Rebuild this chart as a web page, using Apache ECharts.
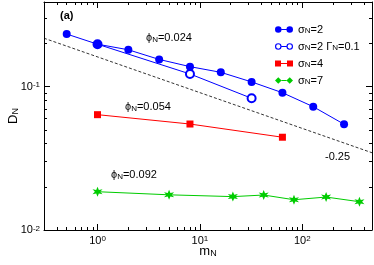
<!DOCTYPE html>
<html><head><meta charset="utf-8">
<script src="https://cdn.jsdelivr.net/npm/echarts@6/dist/echarts.min.js"></script>
<style>html,body{margin:0;padding:0;background:#fff}#c{width:374px;height:265px}</style>
</head><body><div id="c"></div>
<script>
// ---- data (raw values, log-log plot) ----
var xTickLabels = [0, 1, 2];          // exponents of 10 on x
var yTickLabels = [-2, -1];           // exponents of 10 on y
var xRange = [0.3, 480];
var yRange = [0.01, 0.39];

var sig2X = [0.5, 1, 2, 4, 8, 16, 32, 64, 128, 256];
var sig2Y = [0.233, 0.198, 0.181, 0.155, 0.138, 0.126, 0.108, 0.0908, 0.0725, 0.0547];

var sig2gX = [1, 8, 32];
var sig2gY = [0.198, 0.1227, 0.083];

var sig4X = [1, 8, 64];
var sig4Y = [0.0638, 0.0549, 0.0444];

var sig7X = [1, 5, 21, 42, 83, 171, 362];
var sig7Y = [0.0185, 0.0176, 0.0171, 0.01754, 0.01626, 0.01698, 0.01575];

var refX = [0.3, 480];
var refY = [0.218, 0.0346];

// ---- helpers ----
var L = Math.log10;
function pts(xs, ys) { return xs.map(function (x, i) { return [L(x), L(ys[i])]; }); }
function minorTicks(lo, hi) {
  var out = [];
  for (var e = Math.floor(L(lo)); e <= Math.ceil(L(hi)); e++) {
    for (var k = 2; k <= 9; k++) {
      var v = k * Math.pow(10, e);
      if (v >= lo && v <= hi) out.push(L(v));
    }
  }
  return out;
}
var FONT = 'Liberation Sans';
var supRich = {
  b: { fontSize: 11, lineHeight: 11, verticalAlign: 'bottom', fontFamily: FONT, color: '#000' },
  s: { fontSize: 8, lineHeight: 8, verticalAlign: 'top', padding: [0, 0, 6, 0], fontFamily: FONT, color: '#000' }
};
function subRich(color, big) {
  var fm = big ? 13 : 11, fs = big ? 9 : 8;
  return {
    m: { fontSize: fm, lineHeight: fm, verticalAlign: 'top', fontFamily: FONT, color: color },
    sub: { fontSize: fs, lineHeight: fs, verticalAlign: 'bottom', padding: [big ? 7 : 5, 0, 0, 0], fontFamily: FONT, color: color }
  };
}

var xMin = L(xRange[0]), xMax = L(xRange[1]);
var yMin = L(yRange[0]), yMax = L(yRange[1]);
var xMinor = minorTicks(xRange[0], xRange[1]);
var yMinor = minorTicks(yRange[0], yRange[1]);

function xAxisDef(pos, major, showLabel, showName) {
  return {
    type: 'value', position: pos, min: xMin, max: xMax,
    splitLine: { show: false },
    axisLine: { show: major, onZero: false, lineStyle: { color: '#000', width: 1 } },
    axisTick: { show: true, inside: true, length: major ? 6 : 3,
      customValues: major ? xTickLabels : xMinor, lineStyle: { color: '#000', width: 1 } },
    axisLabel: { show: showLabel, customValues: xTickLabels, margin: 5,
      formatter: function (v) { return '{b|10}{s|' + Math.round(v) + '}'; }, rich: supRich },
    name: showName ? '{m|m}{sub|N}' : '', nameLocation: 'middle', nameGap: 15, nameMoveOverlap: false,
    nameTextStyle: { rich: subRich('#000', true) }
  };
}
function yAxisDef(pos, major, showLabel, showName) {
  return {
    type: 'value', position: pos, min: yMin, max: yMax,
    splitLine: { show: false },
    axisLine: { show: major, onZero: false, lineStyle: { color: '#000', width: 1 } },
    axisTick: { show: true, inside: true, length: major ? 6 : 3,
      customValues: major ? yTickLabels : yMinor, lineStyle: { color: '#000', width: 1 } },
    axisLabel: { show: showLabel, customValues: yTickLabels, margin: 4,
      formatter: function (v) { return '{b|10}{s|' + Math.round(v) + '}'; }, rich: supRich },
    name: showName ? '{m|D}{sub|N}' : '', nameLocation: 'middle', nameGap: 24, nameRotate: 90, nameMoveOverlap: false,
    nameTextStyle: { rich: subRich('#000', true) }
  };
}

var BLUE = '#0000ff', RED = '#ff0000', GREEN = '#00cc00';
var starPath = 'path://M5,0L6.2,3.2L9.5,2.5L7.4,5L9.5,7.5L6.2,6.8L5,10L3.8,6.8L0.5,7.5L2.6,5L0.5,2.5L3.8,3.2Z';

var names = ['σN=2', 'σN=2 ΓN=0.1', 'σN=4', 'σN=7'];
var legendFmt = {
  'σN=2': '{m|σ}{sub|N}{m|=2}',
  'σN=2 ΓN=0.1': '{m|σ}{sub|N}{m|=2 Γ}{sub|N}{m|=0.1}',
  'σN=4': '{m|σ}{sub|N}{m|=4}',
  'σN=7': '{m|σ}{sub|N}{m|=7}'
};

var option = {
  animation: false,
  backgroundColor: '#fff',
  grid: { left: 44, right: 2, top: 2, bottom: 35, containLabel: false, outerBoundsMode: 'none' },
  xAxis: [
    xAxisDef('bottom', true, true, true),
    xAxisDef('bottom', false, false, false),
    xAxisDef('top', true, false, false),
    xAxisDef('top', false, false, false)
  ],
  yAxis: [
    yAxisDef('left', true, true, true),
    yAxisDef('left', false, false, false),
    yAxisDef('right', true, false, false),
    yAxisDef('right', false, false, false)
  ],
  legend: {
    orient: 'vertical', left: 270, top: 17, itemWidth: 18, itemHeight: 8, itemGap: 4,
    selectedMode: false,
    data: [
      { name: names[0], icon: 'path://M0,4A4,4,0,1,1,8,4A4,4,0,1,1,0,4ZM8,3.5L14,3.5L14,4.5L8,4.5ZM14,4A4,4,0,1,1,22,4A4,4,0,1,1,14,4Z', itemStyle: { color: BLUE, borderWidth: 0 } },
      { name: names[1], icon: 'path://M0,4A4,4,0,1,1,8,4A4,4,0,1,1,0,4ZM1.4,4A2.6,2.6,0,1,0,6.6,4A2.6,2.6,0,1,0,1.4,4ZM8,3.5L14,3.5L14,4.5L8,4.5ZM14,4A4,4,0,1,1,22,4A4,4,0,1,1,14,4ZM15.4,4A2.6,2.6,0,1,0,20.6,4A2.6,2.6,0,1,0,15.4,4Z', itemStyle: { color: BLUE, borderWidth: 0 } },
      { name: names[2], icon: 'path://M0.5,0.5H7.5V7.5H0.5ZM7.5,3.5H14.5V4.5H7.5ZM14.5,0.5H21.5V7.5H14.5Z', itemStyle: { color: RED, borderWidth: 0 } },
      { name: names[3], icon: 'path://M0,4L4,0L8,4L4,8ZM8,3.5L14,3.5L14,4.5L8,4.5ZM14,4L18,0L22,4L18,8Z', itemStyle: { color: GREEN, borderWidth: 0 } }
    ],
    formatter: function (n) { return legendFmt[n]; },
    textStyle: { rich: subRich('#000'), padding: [0, 0, 0, 0] }
  },
  series: [
    { name: 'ref', type: 'line', xAxisIndex: 0, yAxisIndex: 0, data: pts(refX, refY), symbol: 'none',
      lineStyle: { color: '#000', width: 0.8, type: [3, 2] }, silent: true, z: 1 },
    { name: names[0], type: 'line', data: pts(sig2X, sig2Y), symbol: 'circle', symbolSize: 8,
      itemStyle: { color: BLUE }, lineStyle: { color: BLUE, width: 1 }, z: 3 },
    { name: names[1], type: 'line', data: pts(sig2gX, sig2gY), symbol: 'emptyCircle', symbolSize: 8,
      itemStyle: { color: BLUE, borderWidth: 1.2 }, lineStyle: { color: BLUE, width: 1 }, z: 2 },
    { name: names[2], type: 'line', data: pts(sig4X, sig4Y), symbol: 'rect', symbolSize: 7,
      itemStyle: { color: RED }, lineStyle: { color: RED, width: 1 }, z: 3 },
    { name: names[3], type: 'line', data: pts(sig7X, sig7Y), symbol: starPath, symbolSize: 10,
      itemStyle: { color: GREEN }, lineStyle: { color: GREEN, width: 1 }, z: 3 }
  ],
  graphic: [
    { type: 'text', x: 60, y: 16, style: { text: '(a)', font: 'bold 11px "Liberation Sans"', fill: '#000', verticalAlign: 'middle' } },
    { type: 'text', x: 146, y: 38, style: { text: '{m|ϕ}{sub|N}{m|=0.024}', rich: subRich(BLUE), verticalAlign: 'middle' } },
    { type: 'text', x: 125, y: 107, style: { text: '{m|ϕ}{sub|N}{m|=0.054}', rich: subRich(RED), verticalAlign: 'middle' } },
    { type: 'text', x: 111, y: 175, style: { text: '{m|ϕ}{sub|N}{m|=0.092}', rich: subRich(GREEN), verticalAlign: 'middle' } },
    { type: 'text', x: 325, y: 157, style: { text: '-0.25', font: '11px "Liberation Sans"', fill: '#000', verticalAlign: 'middle' } }
  ]
};
var chart = echarts.init(document.getElementById('c'), null, { renderer: 'canvas' });
chart.setOption(option);
</script>
</body></html>
